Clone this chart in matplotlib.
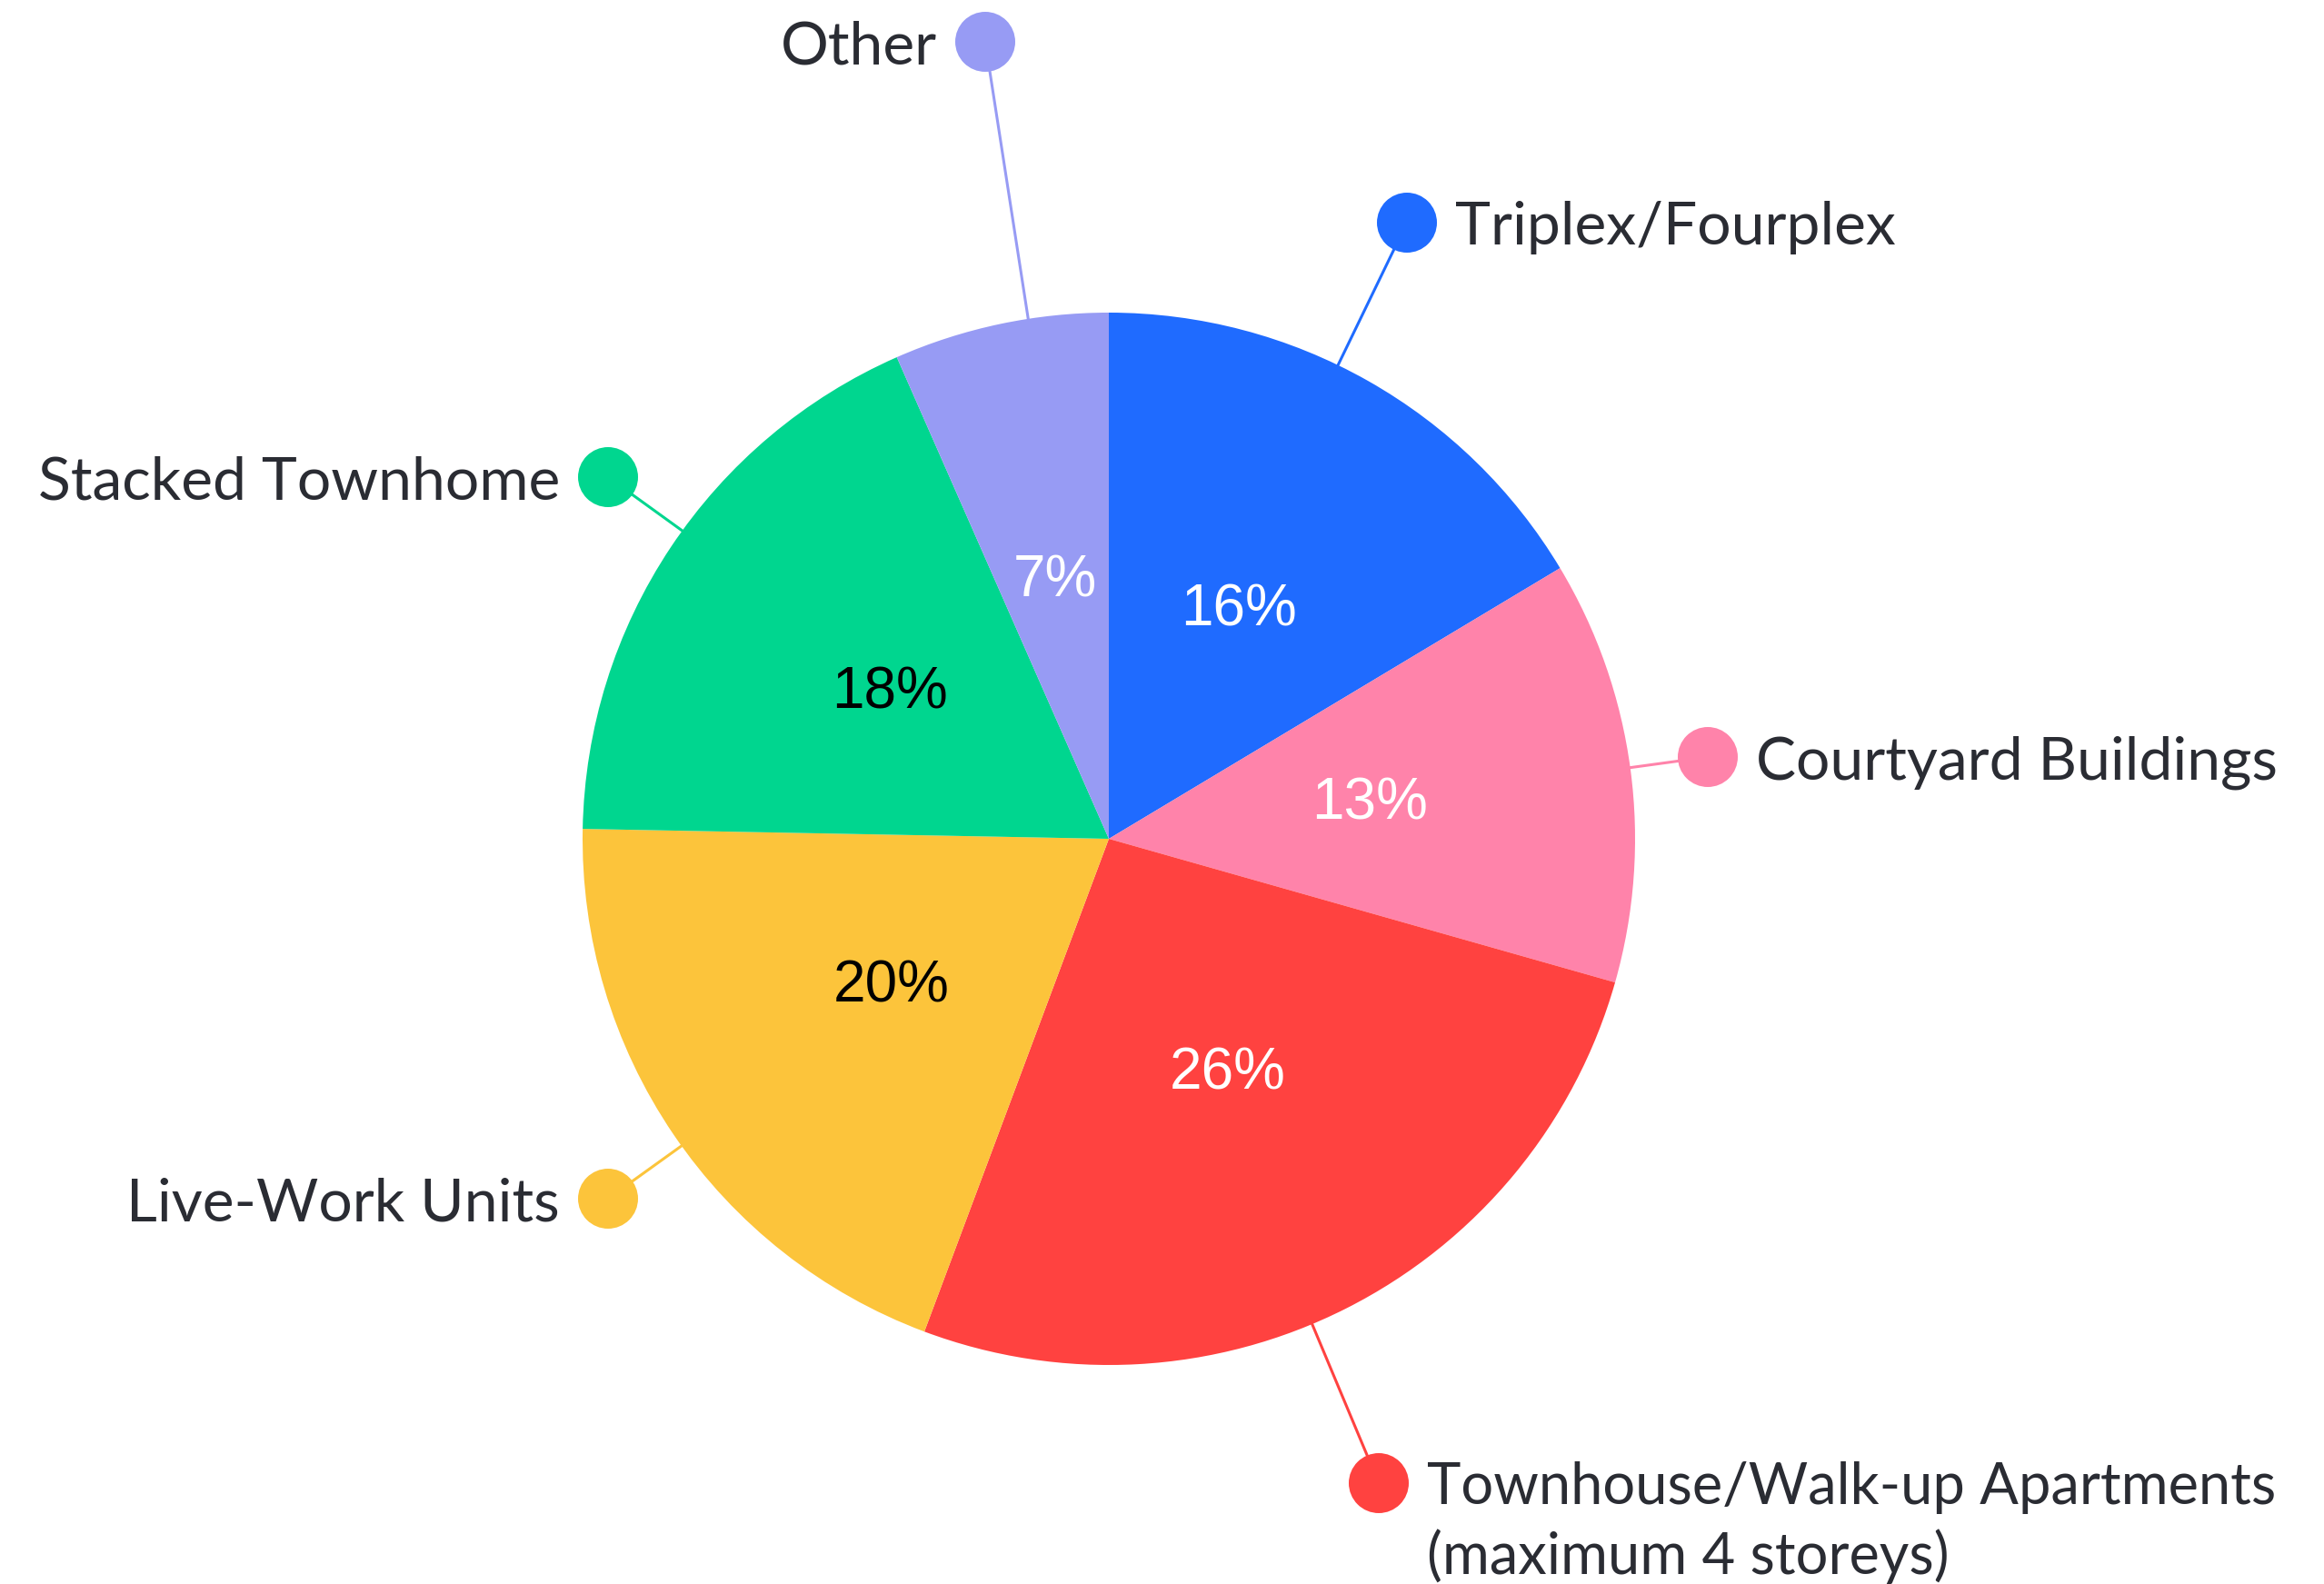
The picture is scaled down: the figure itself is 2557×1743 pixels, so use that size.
import numpy as np
import matplotlib
matplotlib.use("Agg")
import matplotlib.pyplot as plt
from matplotlib.patches import Circle

# ---- data ----
categories = ["Triplex/Fourplex", "Courtyard Buildings",
              "Townhouse/Walk-up Apartments\n(maximum 4 storeys)",
              "Live-Work Units", "Stacked Townhome", "Other"]
shares = [16.4, 13.0, 26.3, 19.6, 18.1, 6.6]
colors = ["#1f6bff", "#ff83aa", "#ff4240", "#fcc43b", "#00d68f", "#979bf4"]
pct_colors = ["white", "white", "white", "black", "black", "white"]

# ---- layout (pixel space, y up) ----
W, H = 2557, 1743
center = (1220, H - 923)
R = 579
# label dot positions (x, y from top) and text sides
dots = [(1548, 245), (1879, 833), (1517, 1632), (669, 1319), (669, 525), (1084, 46)]
sides = ["right", "right", "right", "left", "left", "left"]
dot_r = 33

fig = plt.figure(figsize=(W / 100, H / 100), dpi=100)
ax = fig.add_axes([0, 0, 1, 1])

wedges, texts, autotexts = ax.pie(
    shares, colors=colors, startangle=90, counterclock=False,
    center=center, radius=R, frame=True, autopct="%.0f%%", pctdistance=0.5,
    wedgeprops=dict(linewidth=0),
    textprops=dict(fontsize=46, family=["Liberation Sans", "DejaVu Sans"]))
ax.set_xlim(0, W)
ax.set_ylim(0, H)
ax.set_aspect("equal")
ax.axis("off")
for t, c in zip(autotexts, pct_colors):
    t.set_color(c)

label_font = ["Lato", "DejaVu Sans"]
fs = 47.5
tc = "#2a2c33"
for cat, col, (dx, dy), side in zip(categories, colors, dots, sides):
    py = H - dy
    vx, vy = dx - center[0], py - center[1]
    d = np.hypot(vx, vy)
    sx, sy = center[0] + vx / d * (R - 5), center[1] + vy / d * (R - 5)
    ax.plot([sx, dx], [sy, py], color=col, lw=2.2, zorder=1, solid_capstyle="butt")
    ax.add_patch(Circle((dx, py), dot_r, color=col, zorder=3, lw=0))
    if side == "right":
        if "\n" in cat:
            first, second = cat.split("\n")
            ax.text(dx + dot_r + 20, py, first, ha="left", va="center_baseline",
                    fontsize=45.5, color=tc, family=label_font)
            ax.text(dx + dot_r + 20, py - 75, second, ha="left", va="center_baseline",
                    fontsize=45.5, color=tc, family=label_font)
        else:
            ax.text(dx + dot_r + 20, py, cat, ha="left", va="center_baseline",
                    fontsize=fs, color=tc, family=label_font)
    else:
        ax.text(dx - dot_r - 20, py, cat, ha="right", va="center_baseline",
                fontsize=fs, color=tc, family=label_font)

fig.savefig("out.png", dpi=100, facecolor="white")
